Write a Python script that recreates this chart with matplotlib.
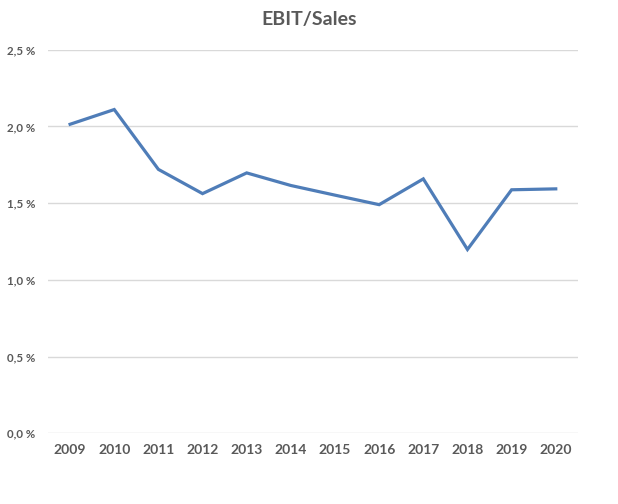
import matplotlib
matplotlib.use("Agg")
import matplotlib.pyplot as plt
from matplotlib.ticker import FuncFormatter

years = ["2009", "2010", "2011", "2012", "2013", "2014", "2015", "2016", "2017", "2018", "2019", "2020"]
ebit_sales = [2.014, 2.110, 1.720, 1.562, 1.697, 1.615, 1.552, 1.490, 1.658, 1.198, 1.587, 1.593]
yticks = [0.0, 0.5, 1.0, 1.5, 2.0, 2.5]

plt.rcParams['font.family'] = ['Lato', 'DejaVu Sans']
fig = plt.figure(figsize=(6.18, 5.04), dpi=100)
ax = fig.add_axes([0.0777, 0.1403, 0.8573, 0.7611])

x = list(range(len(years)))
ax.plot(x, ebit_sales, color="#4f7db8", linewidth=2.3, solid_joinstyle="miter", zorder=3)

ax.set_xlim(-0.5, len(years) - 0.5)
ax.set_ylim(0, 2.5)
ax.set_yticks(yticks)
ax.yaxis.set_major_formatter(FuncFormatter(lambda v, p: f"{v:.1f} %".replace(".", ",")))
ax.set_xticks(x)
ax.set_xticklabels(years)

ax.grid(axis="y", color="#d9d9d9", linewidth=1.0, zorder=0)
ax.set_axisbelow(True)
for s in ax.spines.values():
    s.set_visible(False)
ax.tick_params(axis="both", length=0)
ax.tick_params(axis="y", pad=9, labelsize=8.3, labelcolor="#595959")
ax.tick_params(axis="x", pad=8, labelsize=10, labelcolor="#595959")
for lab in ax.get_yticklabels() + ax.get_xticklabels():
    lab.set_fontweight("bold")

fig.text(0.5, 0.962, "EBIT/Sales", ha="center", va="center", fontsize=14, fontweight="bold", color="#595959")

fig.savefig("out.png", dpi=100, facecolor="white")
